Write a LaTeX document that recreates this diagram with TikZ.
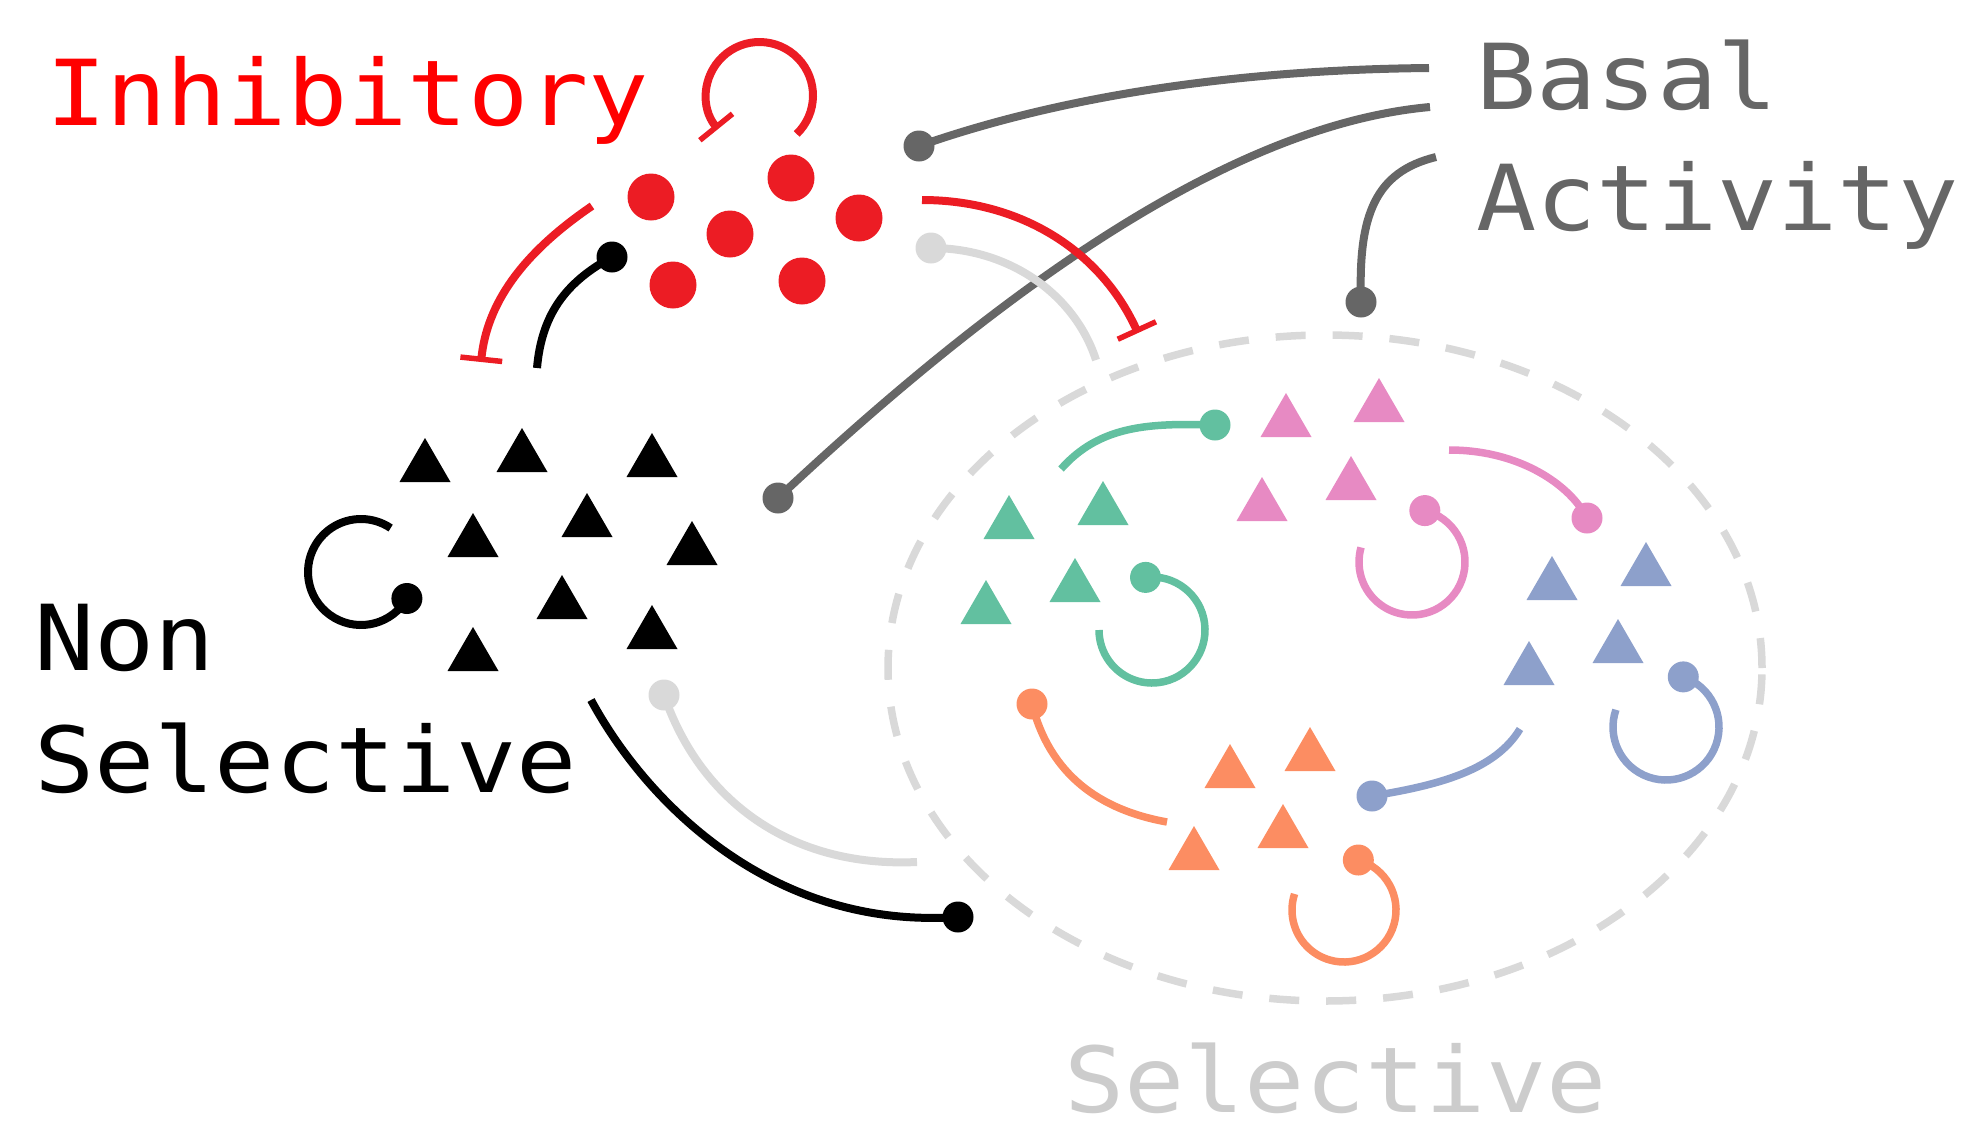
\documentclass[tikz,border=0pt]{standalone}
\usepackage{fontspec}
\usetikzlibrary{arrows.meta,shapes.geometric}
\newfontfamily\labelfont[FakeStretch=1.1]{DejaVu Sans Mono}
\definecolor{inhred}{HTML}{EC1C24}
\definecolor{textred}{HTML}{FF0000}
\definecolor{basalgray}{HTML}{666666}
\definecolor{palegray}{HTML}{D9D9D9}
\definecolor{selgray}{HTML}{CCCCCC}
\definecolor{setgreen}{HTML}{62C0A0}
\definecolor{setorange}{HTML}{FC8D62}
\definecolor{setblue}{HTML}{8DA0CB}
\definecolor{setpink}{HTML}{E78AC3}
\begin{document}
\begin{tikzpicture}[x=1pt,y=-1pt,
  lbl/.style={inner sep=0pt, anchor=base west, text depth=0pt, font=\labelfont\fontsize{91}{100}\selectfont},
  ball/.style={circle, inner sep=0pt, minimum size=31pt, fill=#1},
  link/.style={line width=8pt, draw=#1},
  selfloop/.style={line width=7.5pt, draw=#1},
  inh/.style={-{Bar[width=42pt, line width=5.5pt]}},
  tri/.pic={\path[pic actions] (0,0) -- (25.5,44) -- (-25.5,44) -- cycle;}
]
\useasboundingbox (0,0) rectangle (1962,1130);

% ---------- labels ----------
\node[lbl, text=textred]   (inhlabel) at (46,125)   {Inhibitory};
\node[lbl, text=basalgray] (basal)    at (1476,109) {Basal};
\node[lbl, text=basalgray] (activity) at (1476,230) {Activity};
\node[lbl]                 (non)      at (34,670)   {Non};
\node[lbl]                 (nonsel)   at (34,792)   {Selective};
\node[lbl, text=selgray]   (sellabel) at (1064,1112) {Selective};

% ---------- selective population boundary ----------
\node[draw=palegray, line width=7.5pt, dash pattern=on 30pt off 27pt,
      ellipse, inner sep=0pt, minimum width=874pt, minimum height=666pt]
      (selgroup) at (1325,668) {};

% ---------- inhibitory population ----------
\foreach \n/\x/\y in {i1/651/197, i2/791/178, i3/730/234, i4/859/218, i5/673/285, i6/802/281}
  \node[circle, fill=inhred, inner sep=0pt, minimum size=47pt] (\n) at (\x,\y) {};

% ---------- non selective population ----------
\foreach \x/\y in {425/438, 522/428, 652/433, 473/513, 587/493, 692/521, 562/575, 652/605, 473/627}
  \pic[fill=black] at (\x,\y) {tri};

% ---------- selective sub-populations ----------
\foreach \x/\y in {1009/495, 1103/481, 1075/558, 986/580}
  \pic[fill=setgreen] at (\x,\y) {tri};
\foreach \x/\y in {1286/393, 1379/378, 1262/477, 1351/456}
  \pic[fill=setpink] at (\x,\y) {tri};
\foreach \x/\y in {1552/556, 1646/542, 1529/641, 1618/619}
  \pic[fill=setblue] at (\x,\y) {tri};
\foreach \x/\y in {1230/744, 1310/727, 1194/826, 1283/804}
  \pic[fill=setorange] at (\x,\y) {tri};

% ---------- connector end points ----------
\coordinate (basalA)  at (1429,68);
\coordinate (basalB)  at (1430,107);
\coordinate (basalC)  at (1436,157);
\coordinate (inhOutL) at (592,206);
\coordinate (inhOutR) at (922,200);
\coordinate (nsUp)    at (537,368);
\coordinate (nsBar)   at (481,362);
\coordinate (selBar)  at (1138,333);
\coordinate (selUp)   at (1096,360);
\coordinate (nsDownA) at (917,862);
\coordinate (nsDownB) at (591,700);
\coordinate (grStart) at (1061,469);
\coordinate (pkStart) at (1449,450);
\coordinate (blStart) at (1520,729);
\coordinate (orStart) at (1167,822);

% ---------- ball terminals ----------
\node[ball=basalgray] (bInh)   at (919,146) {};
\node[ball=basalgray] (bNs)    at (778,498) {};
\node[ball=basalgray] (bSel)   at (1361,302) {};
\node[ball=black]     (bInhNs) at (612,257) {};
\node[ball=palegray]  (bInhSel) at (931,248) {};
\node[ball=palegray]  (bNsSel) at (664,695) {};
\node[ball=black]     (bSelNs) at (958,917) {};
\node[ball=setgreen]  (bGr)    at (1215,425) {};
\node[ball=setpink]   (bPk)    at (1587,518) {};
\node[ball=setblue]   (bBl)    at (1372,796) {};
\node[ball=setorange] (bOr)    at (1032,704) {};

% ---------- basal activity inputs ----------
\draw[link=basalgray] (basalA) .. controls (1220,70) and (1050,100) .. (bInh.center);
\draw[link=basalgray] (basalB) .. controls (1230,125) and (1000,290) .. (bNs.center);
\draw[link=basalgray] (basalC) .. controls (1375,172) and (1358,215) .. (bSel.center);

% ---------- inhibition ----------
\draw[link=inhred, inh] (inhOutL) .. controls (520,255) and (487,305) .. (nsBar);
\draw[link=inhred, inh] (inhOutR) .. controls (1020,200) and (1100,250) .. (selBar);
\draw[link=inhred, inh] (759.5,95.5) ++(46:53.5) arc[start angle=46, end angle=-219, radius=53.5];

% ---------- excitation between populations ----------
\draw[link=black]    (nsUp) .. controls (542,310) and (570,280) .. (bInhNs.center);
\draw[link=palegray] (selUp) .. controls (1075,295) and (1010,248) .. (bInhSel.center);
\draw[link=palegray] (nsDownA) .. controls (790,868) and (700,800) .. (bNsSel.center);
\draw[link=black]    (nsDownB) .. controls (645,800) and (770,930) .. (bSelNs.center);

% ---------- connections within the selective population ----------
\draw[selfloop=setgreen]  (grStart) .. controls (1100,425) and (1150,423) .. (bGr.center);
\draw[selfloop=setpink]   (pkStart) .. controls (1520,450) and (1570,485) .. (bPk.center);
\draw[selfloop=setblue]   (blStart) .. controls (1495,770) and (1440,785) .. (bBl.center);
\draw[selfloop=setorange] (orStart) .. controls (1100,810) and (1050,775) .. (bOr.center);

% ---------- recurrent loops ----------
\path ([shift={(30:53)}]361,572) node[ball=black] (lNs) {};
\draw[link=black] (lNs.center) arc[start angle=30, end angle=304, radius=53];

\path ([shift={(-97:53)}]1152,630) node[ball=setgreen] (lGr) {};
\draw[selfloop=setgreen] (lGr.center) arc[start angle=-97, end angle=180, radius=53];

\path ([shift={(-76:53)}]1412,562) node[ball=setpink] (lPk) {};
\draw[selfloop=setpink] (lPk.center) arc[start angle=-76, end angle=196, radius=53];

\path ([shift={(-71:53)}]1666,727) node[ball=setblue] (lBl) {};
\draw[selfloop=setblue] (lBl.center) arc[start angle=-71, end angle=199, radius=53];

\path ([shift={(-74:52)}]1344,910) node[ball=setorange] (lOr) {};
\draw[selfloop=setorange] (lOr.center) arc[start angle=-74, end angle=198, radius=52];
\end{tikzpicture}
\end{document}
